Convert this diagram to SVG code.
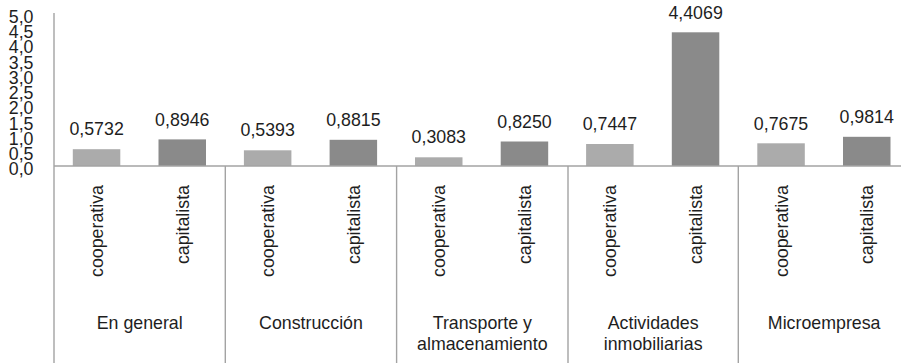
<svg xmlns="http://www.w3.org/2000/svg" width="902" height="363" viewBox="0 0 902 363">
<style>
text{font-family:"Liberation Sans",Arial,sans-serif;font-size:17.8px;fill:#1e1e1e}
.y{text-anchor:end}
.v{text-anchor:middle}
.r{text-anchor:end}
.c{text-anchor:middle}
.coop{fill:#ababab}
.cap{fill:#8a8a8a}
.ln{stroke:#a3a3a3;stroke-width:1.4;fill:none}
</style>
<rect width="902" height="363" fill="#ffffff"/>
<g id="y-axis-labels">
<text class="y" x="33.5" y="175.2">0,0</text>
<text class="y" x="33.5" y="160.0">0,5</text>
<text class="y" x="33.5" y="144.7">1,0</text>
<text class="y" x="33.5" y="129.5">1,5</text>
<text class="y" x="33.5" y="114.2">2,0</text>
<text class="y" x="33.5" y="99.0">2,5</text>
<text class="y" x="33.5" y="83.7">3,0</text>
<text class="y" x="33.5" y="68.5">3,5</text>
<text class="y" x="33.5" y="53.2">4,0</text>
<text class="y" x="33.5" y="38.0">4,5</text>
<text class="y" x="33.5" y="22.7">5,0</text>
</g>
<g id="bars">
<rect class="coop" x="72.8" y="149.2" width="47.5" height="16.8"/>
<rect class="cap" x="158.5" y="139.4" width="47.5" height="26.6"/>
<rect class="coop" x="243.9" y="150.3" width="47.5" height="15.7"/>
<rect class="cap" x="329.6" y="139.8" width="47.5" height="26.2"/>
<rect class="coop" x="415.0" y="157.3" width="47.5" height="8.7"/>
<rect class="cap" x="500.7" y="141.5" width="47.5" height="24.5"/>
<rect class="coop" x="586.1" y="144.0" width="47.5" height="22.0"/>
<rect class="cap" x="671.8" y="32.3" width="47.5" height="133.7"/>
<rect class="coop" x="757.3" y="143.3" width="47.5" height="22.7"/>
<rect class="cap" x="843.0" y="136.8" width="47.5" height="29.2"/>
</g>
<g id="connectors">
<line class="ln" x1="54" y1="13" x2="54" y2="363"/>
<line class="ln" x1="54" y1="166" x2="901" y2="166"/>
<line class="ln" x1="225.3" y1="166" x2="225.3" y2="363"/>
<line class="ln" x1="396.6" y1="166" x2="396.6" y2="363"/>
<line class="ln" x1="568" y1="166" x2="568" y2="363"/>
<line class="ln" x1="738.3" y1="166" x2="738.3" y2="363"/>
</g>
<g id="value-labels">
<text class="v" x="96.6" y="135.4">0,5732</text>
<text class="v" x="182.3" y="125.6">0,8946</text>
<text class="v" x="267.7" y="136.4">0,5393</text>
<text class="v" x="353.4" y="126.0">0,8815</text>
<text class="v" x="438.8" y="143.4">0,3083</text>
<text class="v" x="524.5" y="127.6">0,8250</text>
<text class="v" x="609.9" y="130.2">0,7447</text>
<text class="v" x="695.6" y="18.5">4,4069</text>
<text class="v" x="781.0" y="129.5">0,7675</text>
<text class="v" x="866.7" y="123.0">0,9814</text>
</g>
<g id="series-labels">
<text class="r" transform="translate(103.1,185) rotate(-90)">cooperativa</text>
<text class="r" transform="translate(188.8,185) rotate(-90)">capitalista</text>
<text class="r" transform="translate(274.2,185) rotate(-90)">cooperativa</text>
<text class="r" transform="translate(359.9,185) rotate(-90)">capitalista</text>
<text class="r" transform="translate(445.3,185) rotate(-90)">cooperativa</text>
<text class="r" transform="translate(531.0,185) rotate(-90)">capitalista</text>
<text class="r" transform="translate(616.4,185) rotate(-90)">cooperativa</text>
<text class="r" transform="translate(702.1,185) rotate(-90)">capitalista</text>
<text class="r" transform="translate(787.5,185) rotate(-90)">cooperativa</text>
<text class="r" transform="translate(873.2,185) rotate(-90)">capitalista</text>
</g>
<g id="category-labels">
<text class="c" x="139.7" y="329">En general</text>
<text class="c" x="311" y="329">Construcción</text>
<text class="c" x="482.3" y="329">Transporte y</text>
<text class="c" x="482.3" y="350">almacenamiento</text>
<text class="c" x="653.2" y="329">Actividades</text>
<text class="c" x="653.2" y="350">inmobiliarias</text>
<text class="c" x="824.2" y="329">Microempresa</text>
</g>
</svg>
